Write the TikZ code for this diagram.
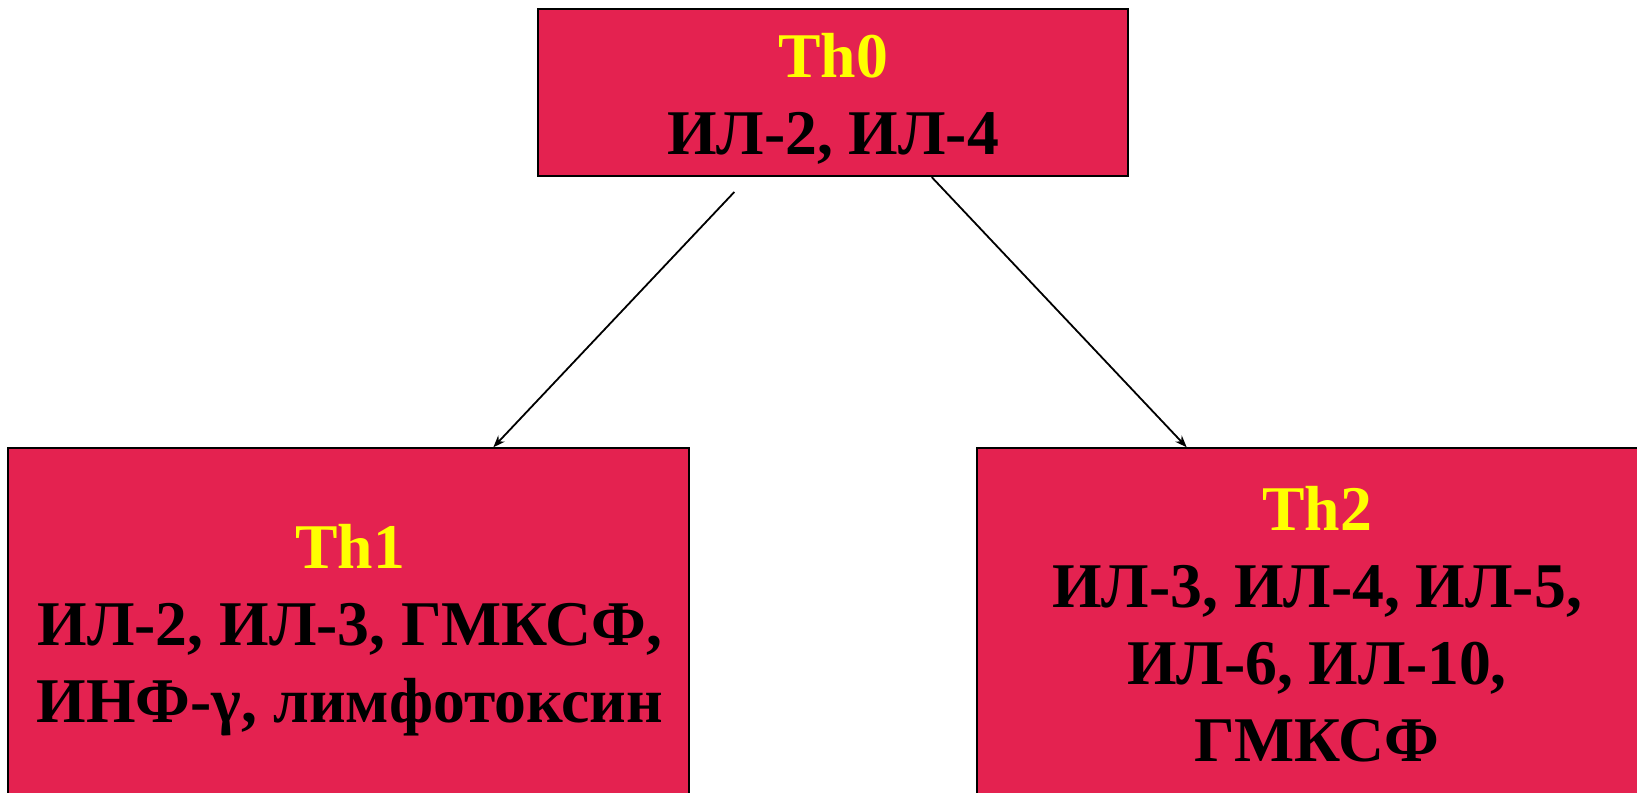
\documentclass[tikz,border=0pt]{standalone}
\usepackage{fontspec}
\setmainfont{Liberation Serif}
\usetikzlibrary{arrows.meta}
\definecolor{cellred}{RGB}{228,34,80}
\definecolor{labelyellow}{RGB}{255,255,0}
\tikzset{
  cellbox/.style={draw=black, line width=2pt, fill=cellred, rectangle, inner sep=0pt},
  celltext/.style={align=center, font=\fontsize{63.7}{77}\selectfont\bfseries, anchor=base, inner sep=0pt, text=black},
  link/.style={line width=1.8pt, -{Stealth[length=12pt,width=9pt]}},
}
\begin{document}
\begin{tikzpicture}[x=1pt,y=-1pt]
\useasboundingbox (0,0) rectangle (1637,792);
\clip (0,0) rectangle (1637,792);

% cell boxes
\node[cellbox, minimum width=590pt, minimum height=166.6pt] (th0) at (833,92.8) {};
\node[cellbox, minimum width=680.9pt, minimum height=361.7pt] (th1) at (348.85,629.15) {};
\node[cellbox, minimum width=681.3pt, minimum height=361.7pt] (th2) at (1317.35,629.15) {};

% labels (anchored at the baseline of the last line)
\node[celltext] (th0text) at (833,154.5) {{\color{labelyellow}Th0}\\ИЛ-2, ИЛ-4};
\node[celltext] (th1text) at (350,722) {{\color{labelyellow}Th1}\\ИЛ-2, ИЛ-3, ГМКСФ,\\ИНФ-γ, лимфотоксин};
\node[celltext] (th2text) at (1317,761) {{\color{labelyellow}Th2}\\ИЛ-3, ИЛ-4, ИЛ-5,\\ИЛ-6, ИЛ-10,\\ГМКСФ};

% differentiation arrows
\coordinate (th0split) at (734.3,192);
\draw[link] (th0split) -- (th1.north -| 493.3,0);
\draw[link] (th0.south -| 931.7,0) -- (th2.north -| 1186.7,0);
\end{tikzpicture}
\end{document}
